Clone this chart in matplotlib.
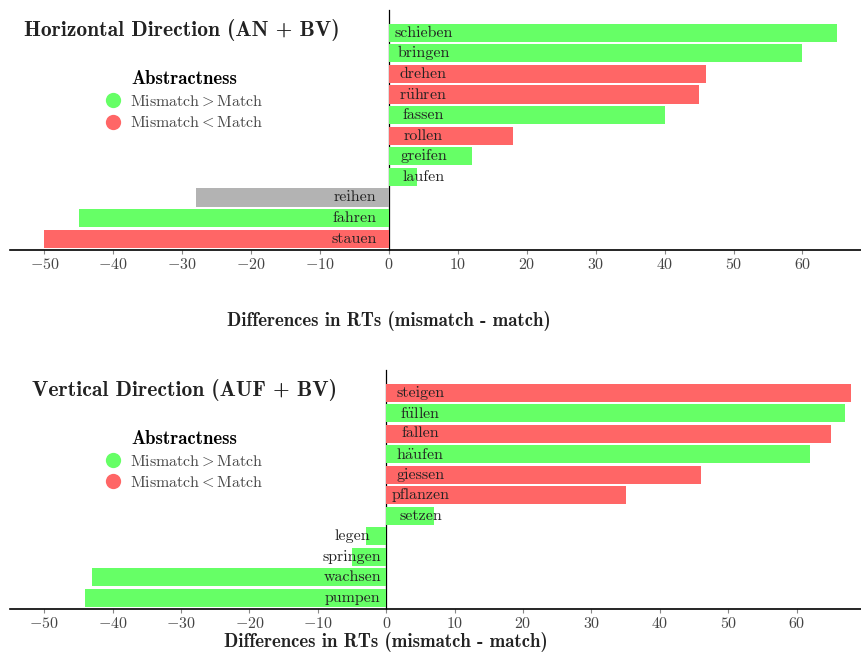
import matplotlib
matplotlib.use("Agg")
import matplotlib.pyplot as plt
from matplotlib.lines import Line2D
from matplotlib.ticker import FuncFormatter
from matplotlib.font_manager import FontProperties

# === DATA ===
h_words = ["schieben", "bringen", "drehen", "rühren", "fassen", "rollen",
           "greifen", "laufen", "reihen", "fahren", "stauen"]
h_values = [65, 60, 46, 45, 40, 18, 12, 4, -28, -45, -50]
h_groups = ["more", "more", "less", "less", "more", "less",
            "more", "more", "none", "more", "less"]

v_words = ["steigen", "füllen", "fallen", "häufen", "giessen", "pflanzen",
           "setzen", "legen", "springen", "wachsen", "pumpen"]
v_values = [68, 67, 65, 62, 46, 35, 7, -3, -5, -43, -44]
v_groups = ["less", "more", "less", "more", "less", "less",
            "more", "more", "more", "more", "more"]

x_ticks = [-50, -40, -30, -20, -10, 0, 10, 20, 30, 40, 50, 60]

COLORS = {"more": "#66ff66", "less": "#ff6666", "none": "#b3b3b3"}
XLABEL = "Differences in RTs (mismatch - match)"

plt.rcParams["mathtext.fontset"] = "cm"

REG = ["cmr10", "DejaVu Serif"]
BOLD = FontProperties(family=["cmb10", "DejaVu Serif"], size=13.5)
TITLE = FontProperties(family=["cmb10", "DejaVu Serif"], size=15.5)


def cm_word(w):
    # cmr10 has no umlauts -> build them with mathtext accents
    if not any(c in w for c in "äöü"):
        return w
    for c, base in (("ä", "a"), ("ö", "o"), ("ü", "u")):
        w = w.replace(c, r"\ddot{%s}" % base)
    return r"$\mathrm{%s}$" % w


def draw_panel(ax, words, values, groups, title, title_x, xlim, labelpad):
    n = len(words)
    ys = [n - 1 - i for i in range(n)]
    ax.barh(ys, values, height=0.88, color=[COLORS[g] for g in groups], zorder=2)
    for y, v, w in zip(ys, values, words):
        xpos = 5 if v > 0 else -5
        ax.text(xpos, y, cm_word(w), ha="center", va="center", fontsize=11.5,
                family=REG, color="#222222", zorder=3)

    ax.set_xlim(*xlim)
    ax.set_ylim(-0.55, n + 0.1)
    ax.set_xticks(x_ticks)
    ax.xaxis.set_major_formatter(FuncFormatter(lambda v, p: "$%d$" % v))
    ax.set_yticks([])
    for s in ["top", "right"]:
        ax.spines[s].set_visible(False)
    ax.spines["left"].set_position(("data", 0))
    ax.spines["left"].set_linewidth(0.9)
    ax.spines["left"].set_zorder(1)
    ax.spines["bottom"].set_linewidth(1.2)
    ax.tick_params(axis="x", length=3, color="#888888", labelsize=11.5,
                   labelcolor="#444444", pad=2)

    ax.set_xlabel(XLABEL, fontproperties=BOLD, labelpad=labelpad, color="#222222")
    # label sits centred under the zero line
    ax.xaxis.label.set_x((0 - xlim[0]) / (xlim[1] - xlim[0]))
    ax.text(title_x, 0.917, title, transform=ax.transAxes, ha="left", va="center",
            fontproperties=TITLE, color="#222222")

    handles = [
        Line2D([], [], marker="o", linestyle="", markersize=11,
               markerfacecolor=COLORS["more"], markeredgecolor="none",
               label="Mismatch$>$Match"),
        Line2D([], [], marker="o", linestyle="", markersize=11,
               markerfacecolor=COLORS["less"], markeredgecolor="none",
               label="Mismatch$<$Match"),
    ]
    leg = ax.legend(handles=handles, title="Abstractness", loc="upper left",
                    bbox_to_anchor=(0.112, 0.75), frameon=False,
                    handlelength=1.0, handletextpad=0.55, labelspacing=0.4,
                    borderpad=0, borderaxespad=0,
                    prop={"family": REG, "size": 11.5},
                    title_fontproperties=BOLD)
    for t in leg.get_texts():
        t.set_color("#444444")


fig = plt.figure(figsize=(8.61, 6.54), dpi=100)
ax1 = fig.add_axes([0.0116, 0.6177, 0.9884, 0.367])
ax2 = fig.add_axes([0.0116, 0.0688, 0.9884, 0.3655])

draw_panel(ax1, h_words, h_values, h_groups, "Horizontal Direction (AN + BV)",
           0.017, (-55, 68.5), 28)
draw_panel(ax2, v_words, v_values, v_groups, "Vertical Direction (AUF + BV)",
           0.026, (-55, 69.4), 1)

fig.savefig("out.png", dpi=100)
